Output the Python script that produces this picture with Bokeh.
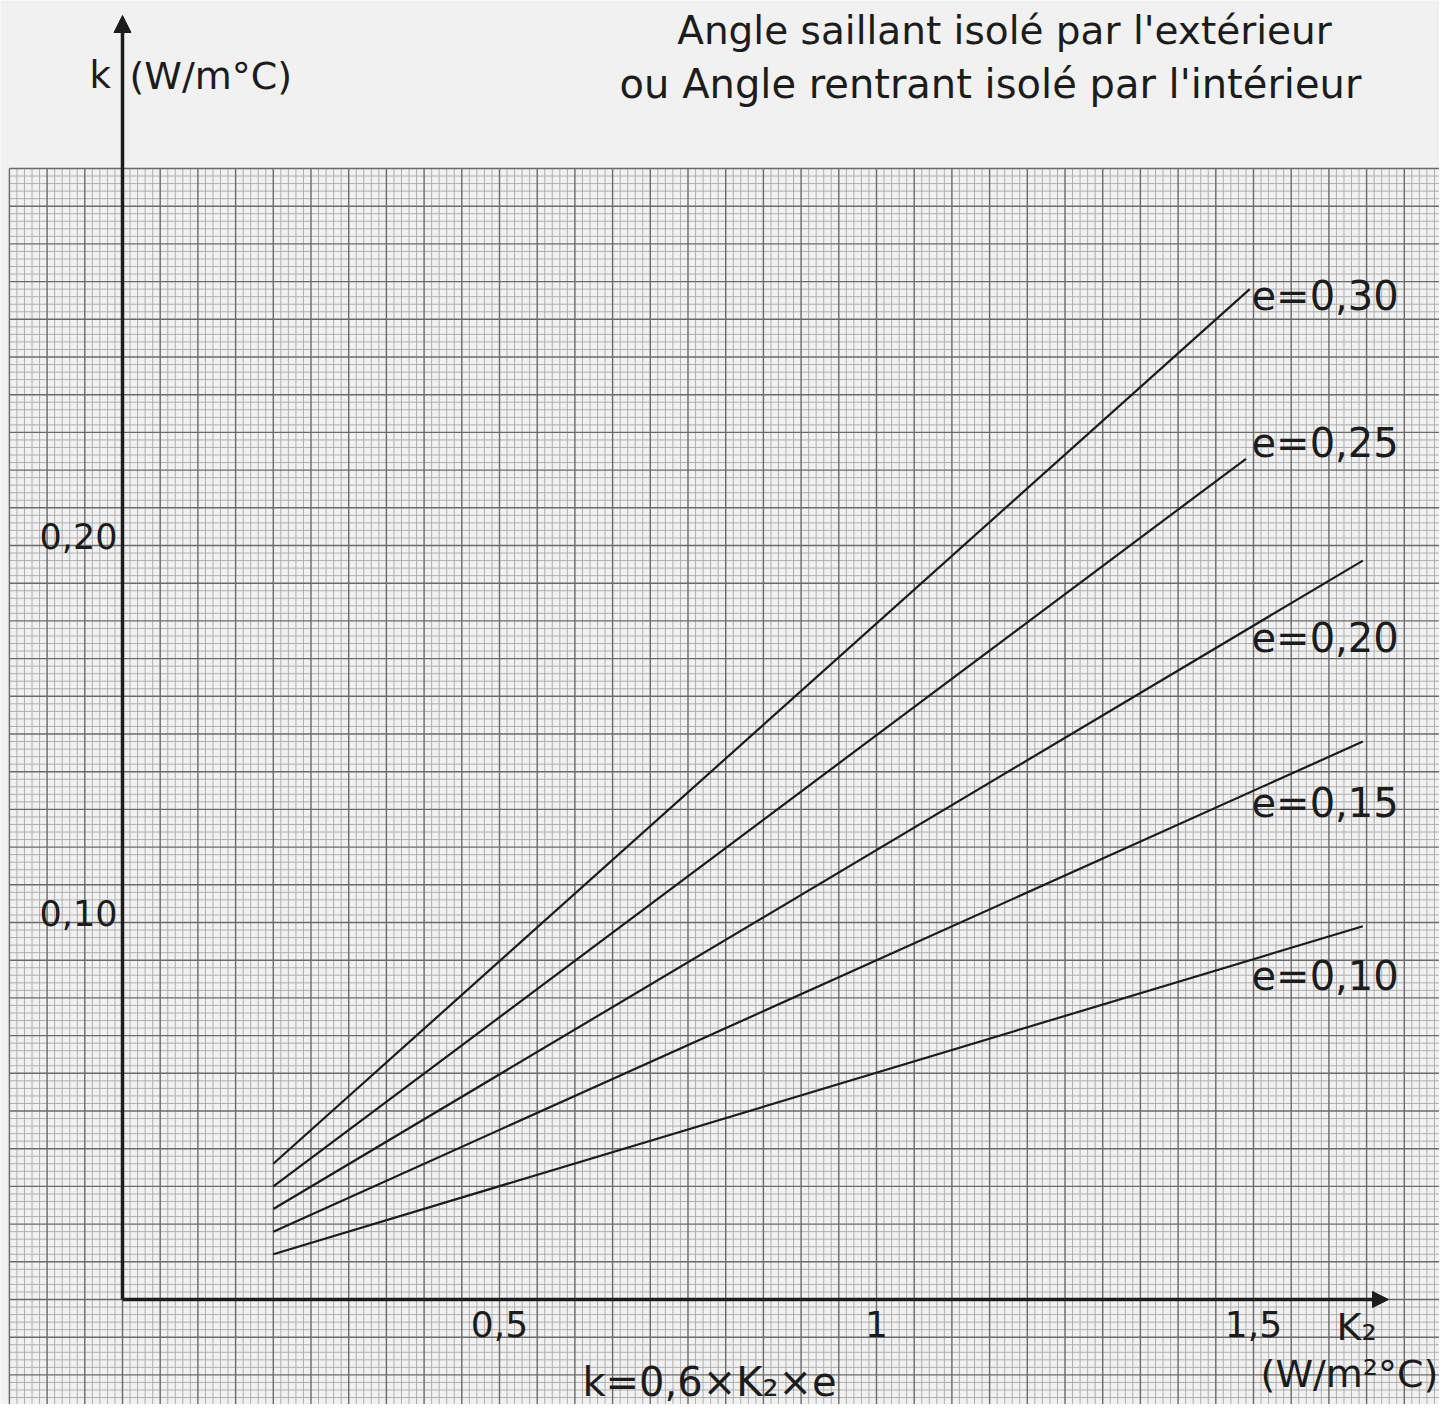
import numpy as np
from bokeh.plotting import figure
from bokeh.models import Arrow, NormalHead, Range1d, ColumnDataSource
from bokeh.core.properties import value
from bokeh.embed import file_html
from bokeh.resources import INLINE

# ---------------- data ----------------
e_values = [0.10, 0.15, 0.20, 0.25, 0.30]
e_labels = ["e=0,10", "e=0,15", "e=0,20", "e=0,25", "e=0,30"]
k2_start = [0.20, 0.20, 0.20, 0.20, 0.20]
k_start = [0.012, 0.018, 0.024, 0.030, 0.036]
k2_end = [1.645, 1.645, 1.645, 1.49, 1.495]
k_end = [0.099, 0.148, 0.196, 0.223, 0.268]

x_ticks = [0.5, 1.0, 1.5]
x_tick_labels = ["0,5", "1", "1,5"]
y_ticks = [0.10, 0.20]
y_tick_labels = ["0,10", "0,20"]

title_1 = "Angle saillant isolé par l'extérieur"
title_2 = "ou Angle rentrant isolé par l'intérieur"
y_name = "k"
y_unit = "(W/m°C)"
x_name = "K₂"
x_unit = "(W/m²°C)"
formula = "k=0,6×K₂×e"

# ---------------- layout helpers (picture pixels -> data) ----------------
X0_PX, X_SCALE = 122.0, 754.0    # x of K2=0, px per unit K2
Y0_PX, Y_SCALE = 1299.0, 3770.0  # y of k=0, px per unit k
TEXT_SHIFT = -15                 # empirical baseline correction (px)


def dx(px):
    return (px - X0_PX) / X_SCALE


def dy(py):
    return (Y0_PX - py) / Y_SCALE


W, H = 1439, 1404
PAPER = "#f1f1f1"
INK = "#1c1c1c"
FONT = value("DejaVu Sans")

p = figure(width=W, height=H,
           x_range=Range1d(dx(0), dx(W)),
           y_range=Range1d(dy(H), dy(0)),
           x_axis_type=None, y_axis_type=None,
           output_backend="svg", toolbar_location=None,
           min_border=0, min_border_left=0, min_border_right=0,
           min_border_top=0, min_border_bottom=0)
p.grid.visible = False
p.outline_line_color = None
p.background_fill_color = PAPER
p.border_fill_color = PAPER

# ---------------- graph paper ----------------
GX_MIN, GX_MAX = -0.15, 1.85
GY_MIN, GY_MAX = -0.05, 0.30
xi = np.arange(-15, 186)
yi = np.arange(-25, 151)
xs = xi * 0.01
ys = yi * 0.002
fine_x = xs[xi % 5 != 0]
med_x = xs[xi % 5 == 0]
fine_y = ys[yi % 5 != 0]
med_y = ys[yi % 5 == 0]

p.segment(x0=fine_x, y0=GY_MIN, x1=fine_x, y1=GY_MAX, line_color="#a8a8a8", line_width=0.9)
p.segment(x0=GX_MIN, y0=fine_y, x1=GX_MAX, y1=fine_y, line_color="#a8a8a8", line_width=0.9)
p.segment(x0=med_x, y0=GY_MIN, x1=med_x, y1=GY_MAX, line_color="#6a6a6a", line_width=1.4)
p.segment(x0=GX_MIN, y0=med_y, x1=GX_MAX, y1=med_y, line_color="#6a6a6a", line_width=1.4)

# ---------------- curves ----------------
src = ColumnDataSource(dict(x0=k2_start, y0=k_start, x1=k2_end, y1=k_end))
p.segment(x0="x0", y0="y0", x1="x1", y1="y1", source=src, line_color=INK, line_width=2.2)

# ---------------- axes with arrows ----------------
p.add_layout(Arrow(end=NormalHead(size=17, fill_color=INK, line_color=INK, line_width=1),
                   x_start=0, y_start=0, x_end=0, y_end=dy(15),
                   line_color=INK, line_width=3.5))
p.add_layout(Arrow(end=NormalHead(size=16, fill_color=INK, line_color=INK, line_width=1),
                   x_start=0, y_start=0, x_end=dx(1388), y_end=0,
                   line_color=INK, line_width=3.5))


# ---------------- texts ----------------
def txt(x, y, t, size, align="left", x_off=0, y_off=0):
    p.text(x=x, y=y, text=t, text_font=FONT, text_font_size=f"{size}px",
           text_color=INK, text_align=align, text_baseline="alphabetic",
           x_offset=x_off, y_offset=y_off + TEXT_SHIFT)


# tick labels
txt(x_ticks, [0] * len(x_ticks), x_tick_labels, 36, align="center", y_off=39)
txt([0] * len(y_ticks), y_ticks, y_tick_labels, 35, align="right", x_off=-5, y_off=5)

# curve labels
label_baseline_py = [990, 817, 652, 457, 310]
txt([dx(1251)] * len(e_labels), [dy(v) for v in label_baseline_py], e_labels, 40)

# axis names
txt([dx(89)], [dy(90)], [y_name], 37)
txt([dx(129)], [dy(90)], [y_unit], 38)
txt([dx(1336)], [dy(1341)], [x_name], 38)
txt([dx(1349)], [dy(1388)], [x_unit], 38, align="center")
txt([dx(709)], [dy(1396)], [formula], 40, align="center")

# titles
txt([dx(1004)], [dy(45)], [title_1], 39, align="center")
txt([dx(990)], [dy(98)], [title_2], 40, align="center")

open("out.html", "w").write(file_html(p, INLINE))
